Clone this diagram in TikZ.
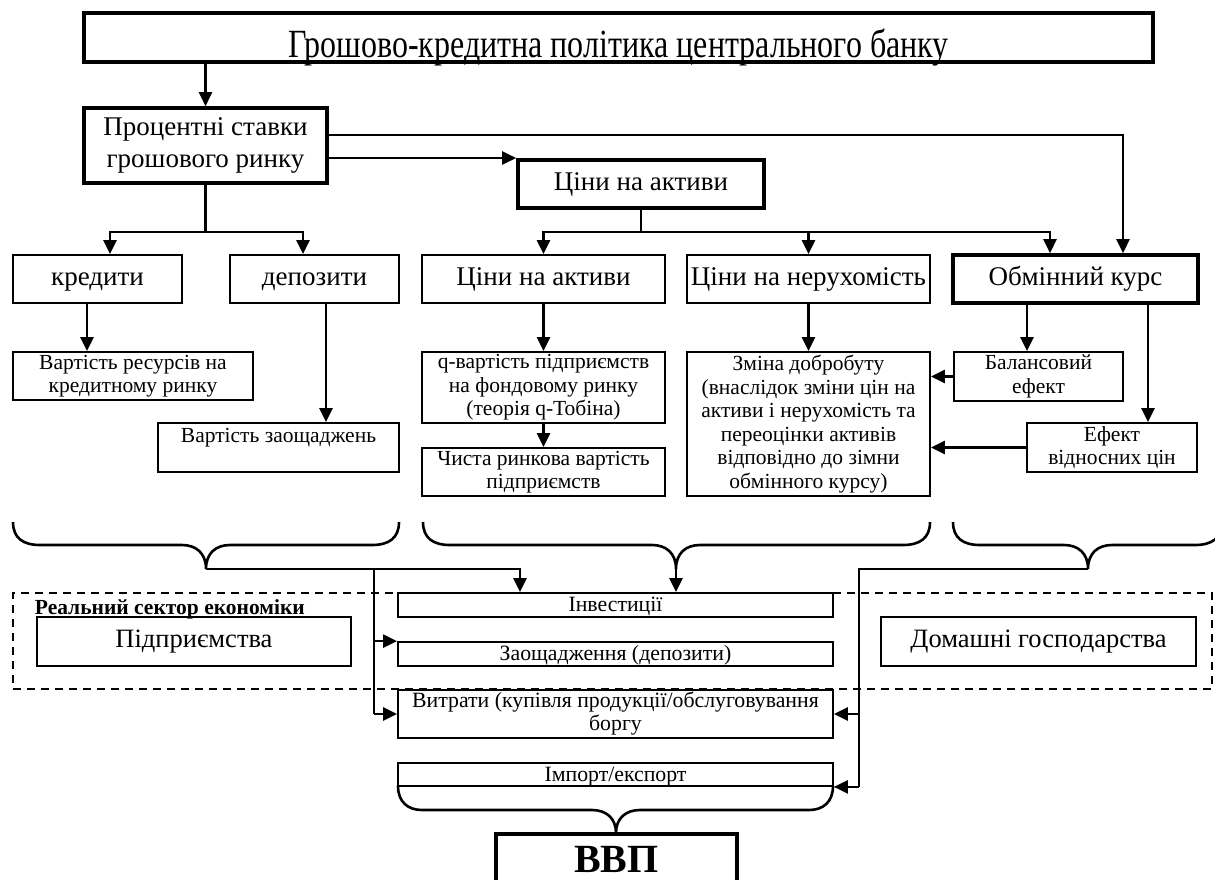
\documentclass[tikz,border=0pt]{standalone}
\usepackage{fontspec}
\setmainfont{Liberation Serif}
\usepackage{graphicx}
\usetikzlibrary{arrows.meta, calc}
\newcommand\titlesize{\fontsize{40}{44}\selectfont}
\newcommand\ratesize{\fontsize{27}{32}\selectfont}
\newcommand\bigsize{\fontsize{27}{30}\selectfont}
\newcommand\sectorsize{\fontsize{26.5}{30}\selectfont}
\newcommand\midsize{\fontsize{21.5}{23.5}\selectfont}
\newcommand\smallsize{\fontsize{21.8}{23}\selectfont}
\newcommand\headsize{\fontsize{21.5}{23}\selectfont}
\newcommand\gdpsize{\fontsize{40}{44}\selectfont}
\tikzset{
  every picture/.style={line width=1.8pt},
  box/.style={draw, rectangle, align=center, inner sep=0pt, line width=1.8pt, font=\midsize},
  thickbox/.style={box, line width=3.6pt, font=\bigsize},
  oneline/.style={text height=17pt, text depth=5pt},
  strip/.style={box, font=\smallsize, minimum width=435pt, text height=16pt, text depth=3pt},
  frame/.style={draw, rectangle, line width=1.8pt, dash pattern=on 8pt off 6pt},
  arrow/.style={-{Triangle[length=14pt, width=13pt]}, line width=2.4pt},
  link/.style={line width=2.4pt},
  brace/.style={line width=2.6pt},
}

\begin{document}
\begin{tikzpicture}[x=1pt, y=-1pt]
  \useasboundingbox (0,0) rectangle (1215,879);
  % policy and the first channels
  \node[thickbox, minimum width=1069pt, minimum height=49pt, text height=40pt, text depth=0pt] (policy) at (618.5,37.5) {\scalebox{0.8}[1]{\titlesize Грошово-кредитна політика центрального банку}};
  \node[thickbox, font=\ratesize, minimum width=243pt, minimum height=75pt] (rates) at (205.5,145.5) {Процентні ставки\\грошового ринку};
  \node[thickbox, oneline, minimum width=246pt, minimum height=48pt] (assets) at (641,184) {Ціни на активи};
  % second row
  \node[box, oneline, font=\bigsize, minimum width=169pt, minimum height=48pt] (credits) at (97.5,279) {кредити};
  \node[box, oneline, font=\bigsize, minimum width=169pt, minimum height=48pt] (deposits) at (314.5,279) {депозити};
  \node[box, oneline, font=\bigsize, minimum width=243pt, minimum height=48pt] (stocks) at (543.5,279) {Ціни на активи};
  \node[box, oneline, font=\bigsize, minimum width=243pt, minimum height=48pt] (realty) at (808.5,279) {Ціни на нерухомість};
  \node[thickbox, oneline, minimum width=245pt, minimum height=48pt] (exchange) at (1075.5,279) {Обмінний курс};
  % third row
  \node[box, minimum width=240pt, minimum height=48pt] (rescost) at (133,376) {Вартість ресурсів на\\кредитному ринку};
  \node[box, minimum width=241pt, minimum height=49pt] (savecost) at (278.5,447.5) {Вартість заощаджень\\~};
  \node[box, minimum width=243pt, minimum height=71pt] (qvalue) at (543.5,387.5) {q-вартість підприємств\\на фондовому ринку\\(теорія q-Тобіна)};
  \node[box, minimum width=243pt, minimum height=48pt] (netvalue) at (543.5,472) {Чиста ринкова вартість\\підприємств};
  \node[box, minimum width=243pt, minimum height=144pt] (wealth) at (808.5,424) {Зміна добробуту\\(внаслідок зміни цін на\\активи і нерухомість та\\переоцінки активів\\відповідно до зімни\\обмінного курсу)};
  \node[box, minimum width=169pt, minimum height=49pt] (balance) at (1038.5,376.5) {Балансовий\\ефект};
  \node[box, minimum width=170pt, minimum height=49pt] (relprice) at (1112,447.5) {Ефект\\відносних цін};
  % real sector
  \node[frame, minimum width=1199pt, minimum height=96pt] (sector) at (612.5,641) {};
  \node[anchor=base west, inner sep=0pt, font=\headsize\bfseries] (sectorname) at (34,614) {Реальний сектор економіки};
  \node[box, oneline, font=\sectorsize, minimum width=314pt, minimum height=49pt] (firms) at (194,641.5) {Підприємства};
  \node[box, oneline, font=\sectorsize, minimum width=315pt, minimum height=49pt] (homes) at (1038.5,641.5) {Домашні господарства};
  \node[strip, minimum height=24pt] (invest) at (615.5,605) {Інвестиції};
  \node[strip, minimum height=24pt] (savings) at (615.5,654) {Заощадження (депозити)};
  \node[box, font=\smallsize, minimum width=435pt, minimum height=48pt] (spending) at (615.5,714) {Витрати (купівля продукції/обслуговування\\боргу};
  \node[strip, minimum height=23pt] (trade) at (615.5,774.5) {Імпорт/експорт};
  \node[thickbox, font=\gdpsize\bfseries, minimum width=241pt, minimum height=50pt] (gdp) at (616.5,859) {ВВП};

  % upper connectors
  \draw[arrow] (policy.south -| rates.north) -- (rates.north);
  \draw[arrow] ([yshift=10.5pt]rates.east) -| ([xshift=47.5pt]exchange.north);
  \draw[arrow] ([yshift=-12.5pt]rates.east) -- ([yshift=-12.5pt]rates.east -| assets.west);
  \coordinate (rsplit) at ([yshift=-47pt]rates.south);
  \draw[link] (rates.south) -- (rsplit);
  \draw[arrow] (rsplit) -| ([xshift=12.5pt]credits.north);
  \draw[arrow] (rsplit) -| ([xshift=-11.5pt]deposits.north);
  \coordinate (asplit) at ([yshift=-22pt]assets.south);
  \draw[link] (assets.south) -- (asplit);
  \draw[arrow] (asplit) -| (stocks.north);
  \draw[arrow] (asplit) -| (realty.north);
  \draw[arrow] (asplit) -| ([xshift=-25.5pt]exchange.north);
  % second to third row
  \draw[arrow] ([xshift=-10.5pt]credits.south) -- ([xshift=-10.5pt]credits.south |- rescost.north);
  \draw[arrow] ([xshift=11.5pt]deposits.south) -- ([xshift=11.5pt]deposits.south |- savecost.north);
  \draw[arrow] (stocks.south) -- (qvalue.north);
  \draw[arrow] (qvalue.south) -- (netvalue.north);
  \draw[arrow] (realty.south) -- (realty.south |- wealth.north);
  \draw[arrow] ([xshift=-48.5pt]exchange.south) -- ([xshift=-48.5pt]exchange.south |- balance.north);
  \draw[arrow] ([xshift=72.5pt]exchange.south) -- ([xshift=72.5pt]exchange.south |- relprice.north);
  \draw[arrow] (balance.west) -- (balance.west -| wealth.east);
  \draw[arrow] (relprice.west) -- (relprice.west -| wealth.east);

  % braces
  \foreach \l/\r/\t/\n in {13/399/206/ltip, 423/930/676/mtip, 953/1222/1088/rtip} {
    \draw[brace] (\l,522) .. controls (\l,538) and (\l+10,545) .. (\l+27,545) -- (\t-24,545)
      .. controls (\t-10,545) and (\t,553) .. (\t,569)
      .. controls (\t,553) and (\t+10,545) .. (\t+24,545) -- (\r-27,545)
      .. controls (\r-10,545) and (\r,538) .. (\r,522);
    \coordinate (\n) at (\t,569);
  }
  \draw[brace] (398,786) .. controls (398,802) and (408,810) .. (422,810) -- (592,810)
    .. controls (606,810) and (616,818) .. (616,833)
    .. controls (616,818) and (626,810) .. (640,810) -- (809,810)
    .. controls (823,810) and (833,802) .. (833,786);

  % lower connectors
  \draw[arrow] (ltip) -| ([xshift=-95.5pt]invest.north);
  \draw[arrow] (mtip) -- (mtip |- invest.north);
  \coordinate (ldrop) at ([xshift=-23pt]spending.west |- ltip);
  \draw[link] (ldrop) -- (ldrop |- spending.west);
  \draw[arrow] (ldrop |- spending.west) -- (spending.west);
  \draw[arrow] (ldrop |- savings.north west) -- (savings.north west);
  \coordinate (rdrop) at ([xshift=25pt]spending.east |- rtip);
  \draw[link] (rtip) -- (rdrop) -- (rdrop |- trade.south east);
  \draw[arrow] (rdrop |- spending.east) -- (spending.east);
  \draw[arrow] (rdrop |- trade.south east) -- (trade.south east);
\end{tikzpicture}
\end{document}
